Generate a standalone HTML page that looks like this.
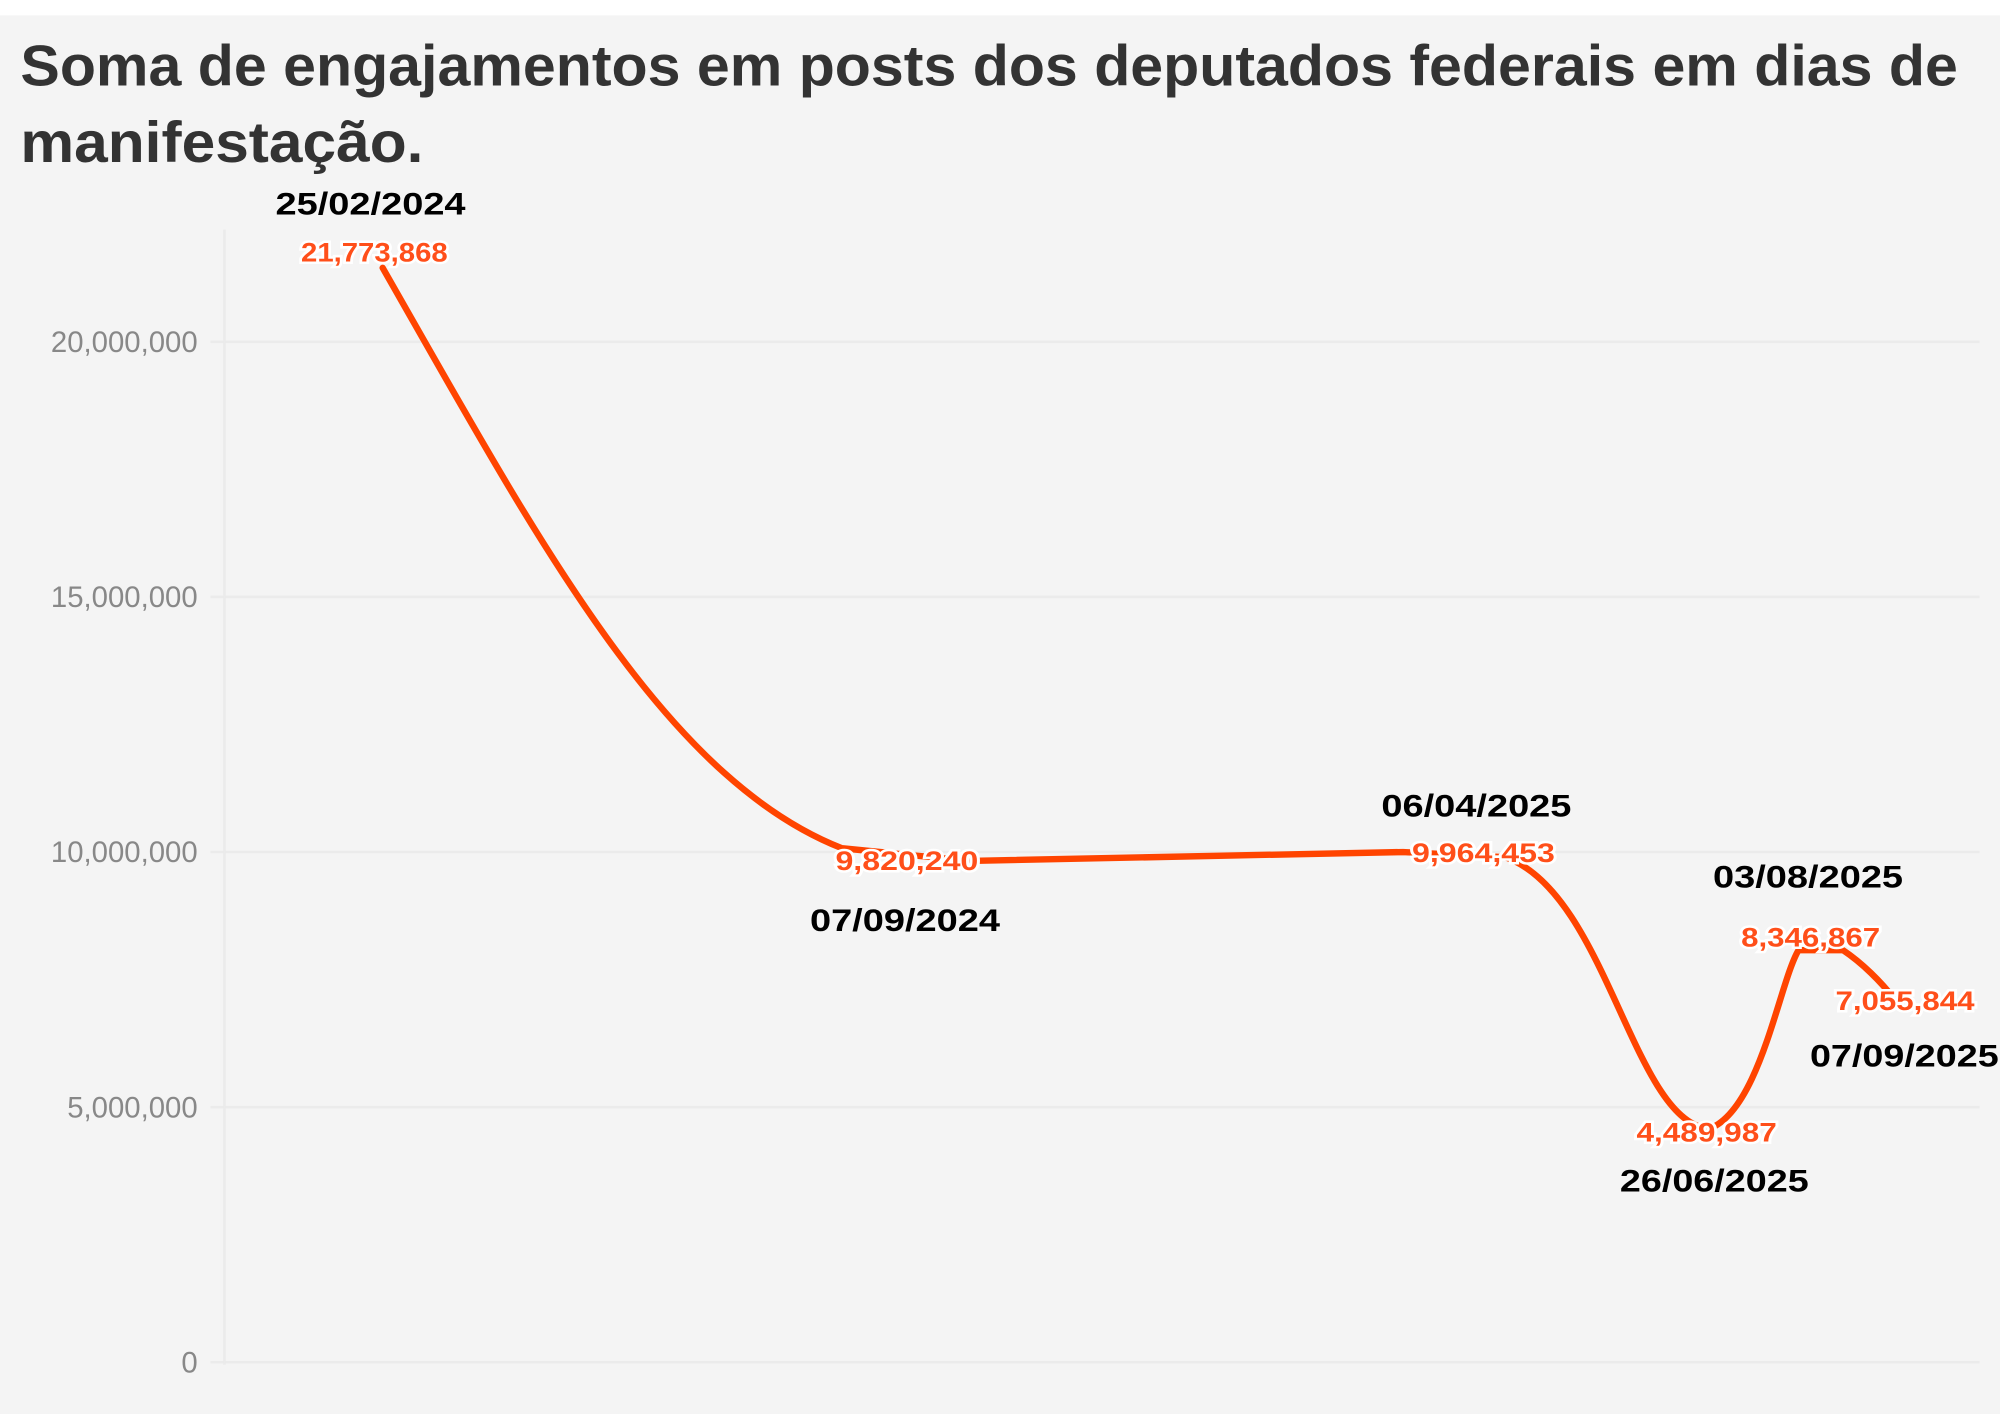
<!DOCTYPE html>
<html><head><meta charset="utf-8"><style>
html,body{margin:0;padding:0;background:#f4f4f4;}
svg{display:block}
</style></head><body>
<svg width="2000" height="1414" viewBox="0 0 1568 1108.6" preserveAspectRatio="none" xmlns="http://www.w3.org/2000/svg">
<rect x="0" y="0" width="1568" height="1109" fill="#f4f4f4"/>
<rect x="0" y="0" width="1568" height="12" fill="#ffffff"/>
<text x="16" y="67" font-family="Liberation Sans, sans-serif" font-weight="bold" font-size="45" fill="#333" textLength="1519" lengthAdjust="spacingAndGlyphs">Soma de engajamentos em posts dos deputados federais em dias de</text>
<text x="16" y="127" font-family="Liberation Sans, sans-serif" font-weight="bold" font-size="45" fill="#333" textLength="316" lengthAdjust="spacingAndGlyphs">manifestação.</text>
<g stroke="#ebebeb" stroke-width="2">
<line x1="165" y1="268" x2="1552" y2="268"/>
<line x1="165" y1="468" x2="1552" y2="468"/>
<line x1="165" y1="668" x2="1552" y2="668"/>
<line x1="165" y1="868" x2="1552" y2="868"/>
<line x1="165" y1="1068" x2="1552" y2="1068"/>
<line x1="176" y1="180" x2="176" y2="1070"/>
</g>
<g font-family="Liberation Sans, sans-serif" font-size="23" fill="#888" text-anchor="end">
<text x="155" y="276">20,000,000</text>
<text x="155" y="476">15,000,000</text>
<text x="155" y="676">10,000,000</text>
<text x="155" y="876">5,000,000</text>
<text x="155" y="1076">0</text>
</g>
<path d="M300,210 C420,420 520,610 660,665 L760,675 L1100,668 L1180,672 C1260,700 1280,880 1340,885 C1380,870 1395,770 1410,745 L1445,745 C1460,755 1475,770 1485,783" fill="none" stroke="#ff4400" stroke-width="5" stroke-linecap="round"/>
<g font-family="Liberation Sans, sans-serif" font-weight="bold" font-size="21" fill="#ff4f1a" stroke="#ffffff" stroke-width="4" paint-order="stroke" lengthAdjust="spacingAndGlyphs">
<text x="236" y="205" textLength="115" lengthAdjust="spacingAndGlyphs">21,773,868</text>
<text x="655" y="682" textLength="112" lengthAdjust="spacingAndGlyphs">9,820,240</text>
<text x="1107" y="676" textLength="112" lengthAdjust="spacingAndGlyphs">9,964,453</text>
<text x="1283" y="895" textLength="110" lengthAdjust="spacingAndGlyphs">4,489,987</text>
<text x="1365" y="742" textLength="109" lengthAdjust="spacingAndGlyphs">8,346,867</text>
<text x="1439" y="792" textLength="109" lengthAdjust="spacingAndGlyphs">7,055,844</text>
</g>
<g font-family="Liberation Sans, sans-serif" font-weight="bold" font-size="25" fill="#000">
<text x="216" y="168" textLength="149" lengthAdjust="spacingAndGlyphs">25/02/2024</text>
<text x="635" y="730" textLength="149" lengthAdjust="spacingAndGlyphs">07/09/2024</text>
<text x="1083" y="640" textLength="149" lengthAdjust="spacingAndGlyphs">06/04/2025</text>
<text x="1270" y="934" textLength="148" lengthAdjust="spacingAndGlyphs">26/06/2025</text>
<text x="1343" y="696" textLength="149" lengthAdjust="spacingAndGlyphs">03/08/2025</text>
<text x="1419" y="836" textLength="148" lengthAdjust="spacingAndGlyphs">07/09/2025</text>
</g>
</svg>
</body></html>
